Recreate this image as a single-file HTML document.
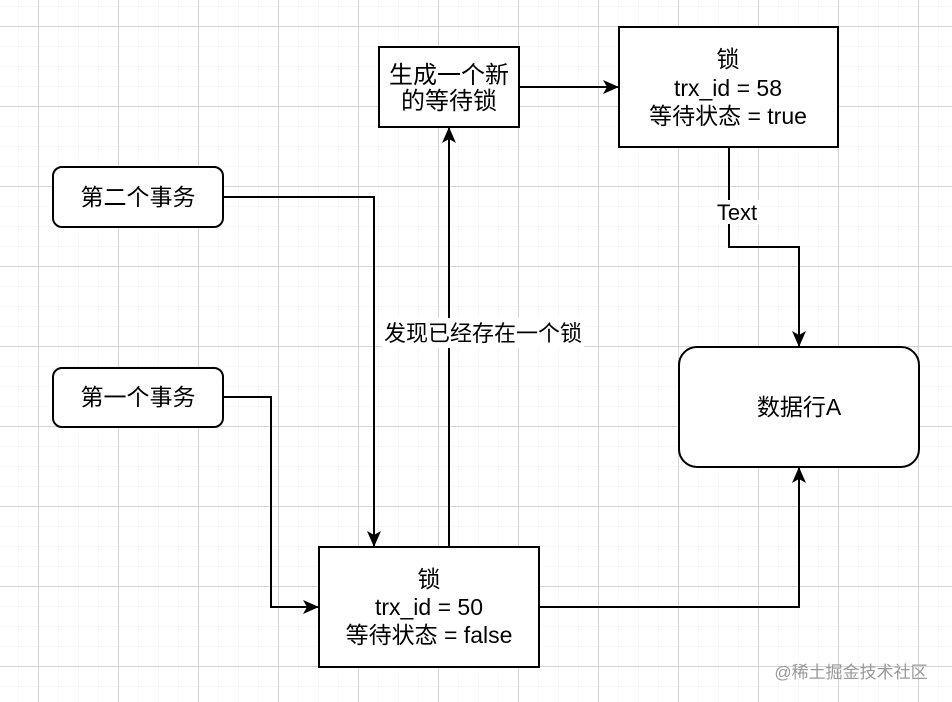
<!DOCTYPE html>
<html><head><meta charset="utf-8"><style>
html,body{margin:0;padding:0;background:#fff}
svg{display:block}
text{font-family:"Liberation Sans","Noto Sans CJK SC",sans-serif;font-size:23px;fill:#000}
</style></head><body>
<svg width="952" height="702" viewBox="0 0 952 702" xmlns="http://www.w3.org/2000/svg">
<defs>
<pattern id="minor" width="20" height="20" patternUnits="userSpaceOnUse" x="-2" y="6">
<path d="M0 0H20M0 0V20" stroke="#f0f0f0" stroke-width="1" fill="none"/>
</pattern>
<pattern id="major" width="80" height="80" patternUnits="userSpaceOnUse" x="38" y="26">
<path d="M0 0.5H80M0.5 0V80" stroke="#d4d4d4" stroke-width="1" fill="none"/>
</pattern>
<marker id="a" markerWidth="16" markerHeight="14" refX="15" refY="7" orient="auto" markerUnits="userSpaceOnUse" viewBox="0 0 16 14">
<path d="M0 0L16 7L0 14L4 7Z" fill="#000"/>
</marker>
</defs>
<rect width="952" height="702" fill="url(#minor)"/>
<rect width="952" height="702" fill="url(#major)"/>
<g fill="none" stroke="#000" stroke-width="2">
<path d="M519 87H618" marker-end="url(#a)"/>
<path d="M223 197H374V546" marker-end="url(#a)"/>
<path d="M223 397H271V607H318" marker-end="url(#a)"/>
<path d="M449 547V128" marker-end="url(#a)"/>
<path d="M729 147V247H799V346" marker-end="url(#a)"/>
<path d="M539 607H799V468" marker-end="url(#a)"/>
</g>
<g fill="#fff" stroke="#000" stroke-width="2">
<rect x="379" y="47" width="140" height="80"/>
<rect x="619" y="27" width="219" height="120"/>
<rect x="53" y="167" width="170" height="60" rx="9"/>
<rect x="53" y="368" width="170" height="59" rx="9"/>
<rect x="679" y="347" width="240" height="120" rx="18"/>
<rect x="319" y="547" width="220" height="120"/>
</g>
<rect x="382" y="318" width="202" height="30" fill="#fff"/>
<rect x="715" y="200" width="44" height="24" fill="#fff"/>
<g text-anchor="middle">
<text x="449" y="83" style="font-size:24px">生成一个新</text>
<text x="449" y="109" style="font-size:24px">的等待锁</text>
<text x="728" y="67">锁</text>
<text x="728" y="96">trx_id = 58</text>
<text x="728" y="124">等待状态 = true</text>
<text x="138" y="205">第二个事务</text>
<text x="138" y="405">第一个事务</text>
<text x="799" y="415" style="font-size:23px">数据行A</text>
<text x="429" y="587">锁</text>
<text x="429" y="615">trx_id = 50</text>
<text x="429" y="643">等待状态 = false</text>
<text x="483" y="341" style="font-size:22px">发现已经存在一个锁</text>
<text x="737" y="220" style="font-size:22px">Text</text>
<text x="851" y="678" style="font-size:17px;fill:#9a9a9a">@稀土掘金技术社区</text>
</g>
</svg>
</body></html>
